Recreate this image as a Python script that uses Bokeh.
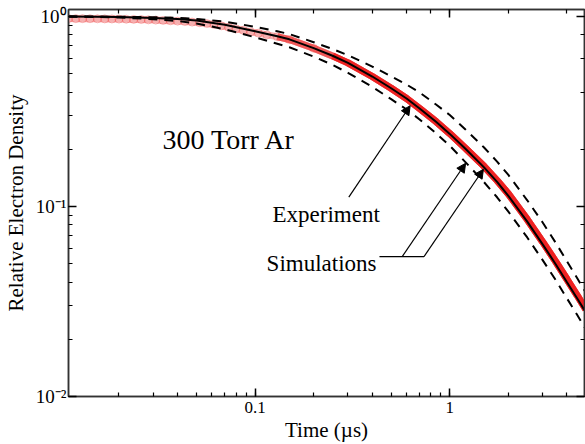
from bokeh.plotting import figure
from bokeh.models import (Range1d, LogAxis, CustomJSTickFormatter, Arrow,
                          NormalHead, Label)
from bokeh.embed import file_html
from bokeh.resources import INLINE

# Simulated decay curves (time in microseconds, density relative to start)
sim_t = [0.011, 0.015, 0.02, 0.03, 0.04, 0.05, 0.07, 0.1, 0.13, 0.15,
         0.2, 0.25, 0.3, 0.4, 0.5, 0.6, 0.7, 0.85, 1.0, 1.2, 1.5, 1.75,
         2.0, 2.5, 3.0, 3.5, 4.0, 4.5, 5.0]
sim_mid = [1.0, 0.998, 0.994, 0.982, 0.969, 0.953, 0.904, 0.835, 0.787,
           0.758, 0.681, 0.621, 0.570, 0.483, 0.419, 0.370, 0.328, 0.279,
           0.241, 0.202, 0.1607, 0.1346, 0.1138, 0.0832, 0.0632, 0.0497,
           0.0399, 0.0330, 0.0277]
sim_upper = [1.0, 0.999, 0.997, 0.991, 0.982, 0.970, 0.940, 0.882, 0.836,
             0.808, 0.732, 0.674, 0.625, 0.545, 0.484, 0.438, 0.398, 0.344,
             0.303, 0.255, 0.2044, 0.1723, 0.1465, 0.1078, 0.0824, 0.0644,
             0.0514, 0.0422, 0.0352]
sim_lower = [1.0, 0.994, 0.987, 0.968, 0.946, 0.919, 0.856, 0.777, 0.719,
             0.689, 0.615, 0.556, 0.505, 0.426, 0.367, 0.324, 0.287, 0.243,
             0.2087, 0.1718, 0.1342, 0.1118, 0.0939, 0.0687, 0.0522, 0.0410,
             0.0328, 0.0270, 0.0226]

# Measured electron density
exp_t = [0.011, 0.012, 0.013, 0.0142, 0.0155, 0.0169, 0.0184, 0.0200,
         0.0218, 0.0238, 0.0260, 0.0283, 0.0309, 0.0337, 0.0367, 0.0400,
         0.0436, 0.0475, 0.0518, 0.0565, 0.0616, 0.0671, 0.0732, 0.0798,
         0.087, 0.095, 0.104, 0.115, 0.13, 0.15, 0.2, 0.25, 0.3, 0.4, 0.5,
         0.6, 0.7, 0.85, 1.0, 1.2, 1.5, 1.75, 2.0, 2.5, 3.0, 3.5, 4.0, 4.5,
         5.0]
exp_n = [0.975, 0.974, 0.974, 0.973, 0.972, 0.971, 0.970, 0.969,
         0.967, 0.965, 0.963, 0.960, 0.957, 0.953, 0.949, 0.945,
         0.940, 0.934, 0.927, 0.918, 0.908, 0.893, 0.877, 0.861,
         0.846, 0.830, 0.817, 0.800, 0.783, 0.756, 0.680, 0.620, 0.570,
         0.483, 0.419, 0.370, 0.328, 0.280, 0.242, 0.203, 0.1627, 0.1370,
         0.1165, 0.0855, 0.0651, 0.0513, 0.0414, 0.0342, 0.0287]

x_ticks_fmt = "return String(parseFloat(tick.toPrecision(3)));"
y_ticks_fmt = """
const e = Math.round(Math.log10(tick));
const sup = {"-": "\u207b", "0": "\u2070", "1": "\u00b9", "2": "\u00b2", "3": "\u00b3"};
return "10" + String(e).split("").map(c => sup[c]).join("");
"""

FONT = "Liberation Serif"

p = figure(width=585, height=444, x_axis_type="log", y_axis_type="log",
           x_range=Range1d(0.01101, 4.92), y_range=Range1d(0.01, 1.088),
           output_backend="svg", toolbar_location=None,
           min_border_left=63, min_border_right=1, min_border_top=9,
           min_border_bottom=46, background_fill_color="white",
           border_fill_color="white", outline_line_color="#333333",
           outline_line_width=1.5)
p.grid.visible = False

# mirrored axes on top and right (ticks only)
p.add_layout(LogAxis(), "above")
p.add_layout(LogAxis(), "right")

for ax in p.axis:
    ax.axis_line_color = "#333333"
    ax.axis_line_width = 1.5
    ax.major_tick_in = 8
    ax.major_tick_out = 0
    ax.minor_tick_in = 4
    ax.minor_tick_out = 0
    ax.major_tick_line_color = "black"
    ax.minor_tick_line_color = "black"
    ax.major_tick_line_width = 1.5
    ax.minor_tick_line_width = 1.2
    ax.major_label_text_font = FONT
    ax.major_label_text_color = "black"
    ax.axis_label_text_font = FONT
    ax.axis_label_text_font_style = "normal"
    ax.axis_label_text_color = "black"

for ax in (p.above[0], p.right[0]):
    ax.major_label_text_font_size = "1px"
    ax.major_label_text_alpha = 0
    ax.major_label_standoff = 0

xa = p.below[0]
xa.formatter = CustomJSTickFormatter(code=x_ticks_fmt)
xa.major_label_text_font_size = "17px"
xa.major_label_standoff = 5
xa.axis_label = "Time (\u00b5s)"
xa.axis_label_text_font_size = "21px"
xa.axis_label_standoff = 2

ya = p.left[0]
ya.formatter = CustomJSTickFormatter(code=y_ticks_fmt)
ya.major_label_text_font_size = "19px"
ya.major_label_standoff = 2
ya.axis_label = "Relative Electron Density"
ya.axis_label_text_font_size = "21px"
ya.axis_label_standoff = 5

# experiment: circles merging into a band
n_pale = 28
n_solid = 31
p.line(exp_t, exp_n, line_color="#f6b0b0", line_width=7)
p.line(exp_t[n_pale:], exp_n[n_pale:], line_color="#f05858", line_width=7)
p.line(exp_t[n_solid:], exp_n[n_solid:], line_color="#ee2222", line_width=7)
p.scatter(exp_t[:n_solid], exp_n[:n_solid], marker="circle", size=8,
          fill_color=None, line_color="#ee3333", line_alpha=0.35,
          line_width=1)

# simulations
p.line(sim_t, sim_upper, line_color="black", line_width=2, line_dash="9 7")
p.line(sim_t, sim_lower, line_color="black", line_width=2, line_dash="9 7")
p.line(sim_t, sim_mid, line_color="black", line_width=2)

p.add_layout(Label(x=0.0335, y=0.225, text="300 Torr Ar", text_font=FONT,
                   text_font_size="28px", text_color="black",
                   text_baseline="alphabetic"))
p.add_layout(Label(x=0.1229, y=0.0903, text="Experiment", text_font=FONT,
                   text_font_size="23px", text_color="black",
                   text_baseline="alphabetic"))
p.add_layout(Label(x=0.1146, y=0.0501, text="Simulations", text_font=FONT,
                   text_font_size="23px", text_color="black",
                   text_baseline="alphabetic"))


def head():
    return NormalHead(size=9, fill_color="black", line_color="black")


p.add_layout(Arrow(end=head(), x_start=0.303, y_start=0.112,
                   x_end=0.626, y_end=0.339, line_width=1.2))
p.add_layout(Arrow(end=None, x_start=0.4354, y_start=0.0545,
                   x_end=0.7375, y_end=0.0545, line_width=1.2))
p.add_layout(Arrow(end=head(), x_start=0.570, y_start=0.0545,
                   x_end=1.206, y_end=0.1688, line_width=1.2))
p.add_layout(Arrow(end=head(), x_start=0.7375, y_start=0.0545,
                   x_end=1.489, y_end=0.157, line_width=1.2))

open("out.html", "w").write(file_html(p, INLINE))
